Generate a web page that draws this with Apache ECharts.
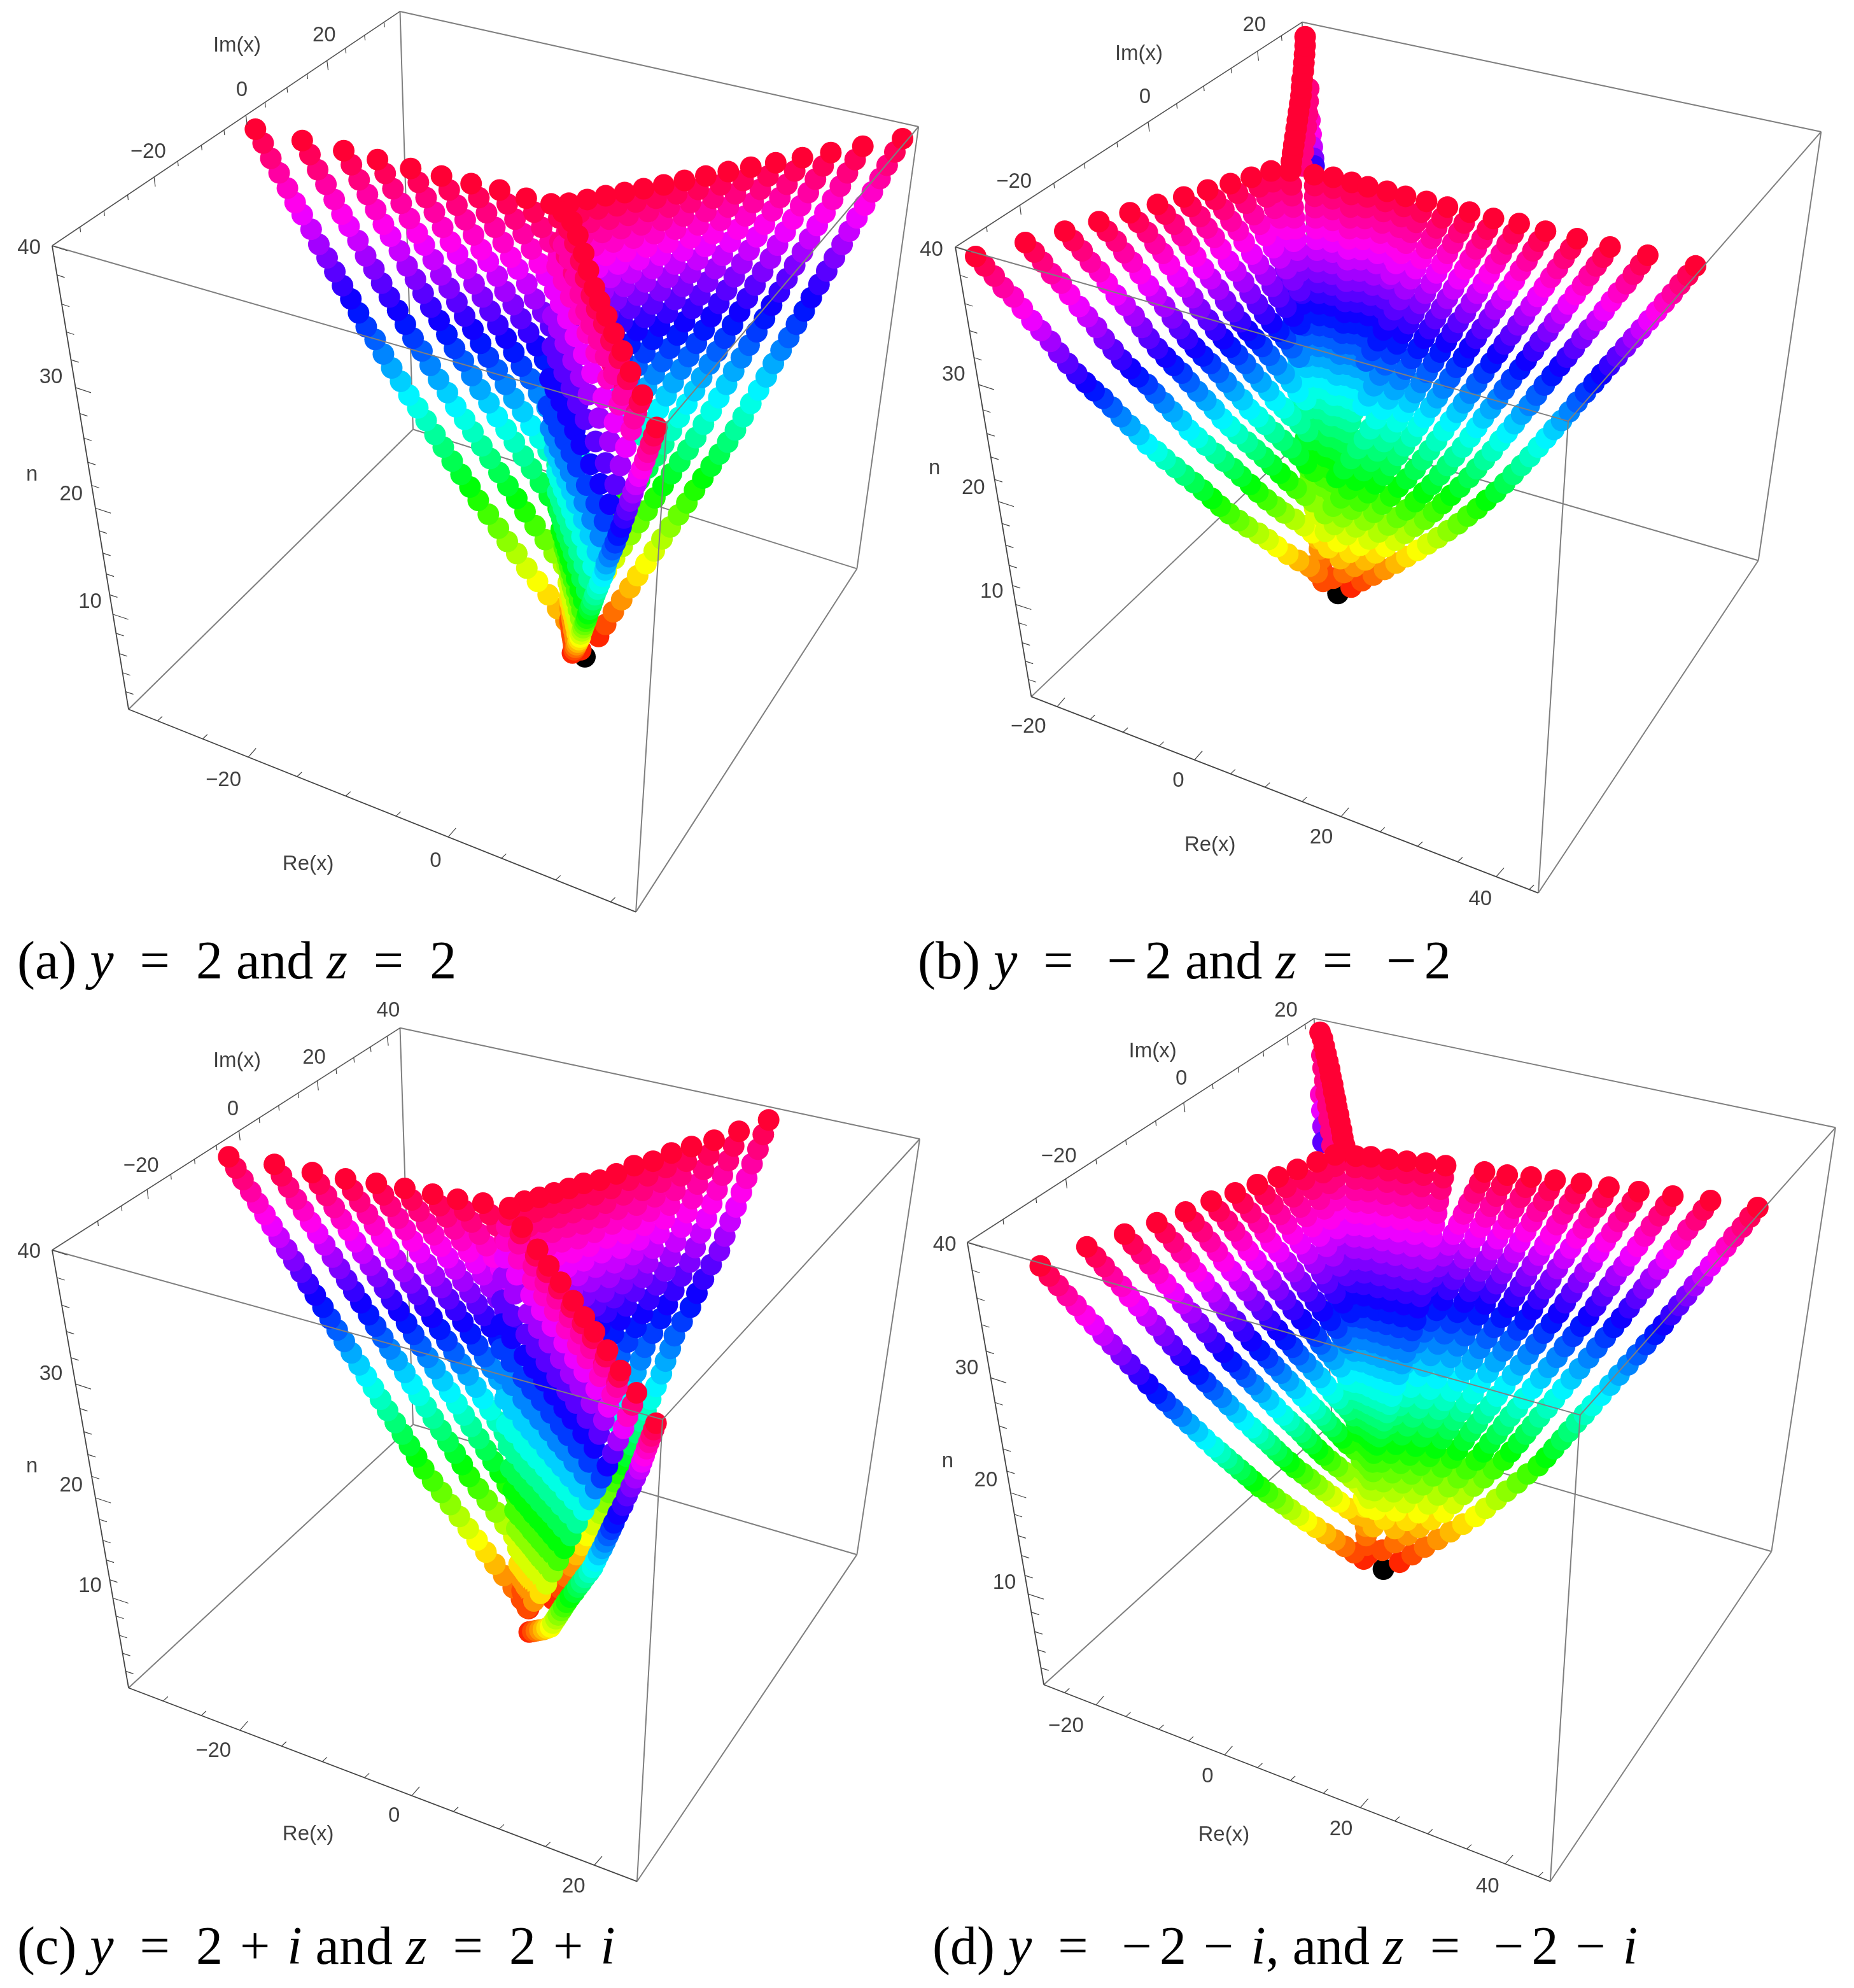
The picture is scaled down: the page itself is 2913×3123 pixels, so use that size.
<!DOCTYPE html>
<html><head><meta charset="utf-8"><style>html,body{margin:0;padding:0;background:#fff}#c{width:2913px;height:3123px}</style>
<script src="https://cdn.jsdelivr.net/npm/echarts@6/dist/echarts.min.js"></script></head><body><div id="c"></div>
<script>
// Values, in each panel's image-plane units. Box corners: TB,TL,TR,TF,BL,BF,BR,BB
const boxA=[[675,18],[88,388],[1550,200],[1125,668],[217,1120],[1073,1440],[1446,898],[697,678]];
const boxB=[[645,35],[65,390],[1513,208],[1090,665],[192,1100],[1040,1410],[1408,885],[660,680]];
const boxC=[[675,55],[88,405],[1552,230],[1118,672],[217,1095],[1075,1400],[1446,885],[697,680]];
const boxD=[[665,40],[85,393],[1537,212],[1110,665],[213,1090],[1060,1400],[1430,880],[695,678]];
const nTicks=[0,.063,.126,.186,.246,.306,.362,.415,.467,.517,.566,.615,.663,.708,.753,.795,.836,.88,.921,.962];
const nMajor=[0,.306,.566,.795];
const imTicksA=[.08,.149,.217,.293,.361,.429,.494,.557,.612,.675,.733,.79,.843,.898,.954], imMajorA=[.293,.557,.79];
const reTicksA=[.057,.146,.236,.332,.428,.527,.63,.735,.842,.95], reMajorA=[.236,.63];
const imTicksB=[.09,.186,.284,.372,.466,.556,.638,.716,.795,.871,.94], imMajorB=[.186,.556,.871];
const reTicksB=[.051,.116,.181,.252,.322,.393,.461,.534,.611,.688,.762,.841,.917,.982], reMajorB=[.051,.322,.611,.917];
const imTicksC=[.131,.199,.273,.341,.409,.472,.537,.595,.651,.707,.762,.816,.867,.915,.963], imMajorC=[.273,.537,.762,.963];
const reTicksC=[.068,.143,.219,.301,.381,.464,.557,.639,.729,.82,.916], reMajorC=[.219,.557,.916];
const imTicksD=[.103,.198,.284,.371,.457,.543,.624,.707,.781,.853,.922,.974], imMajorD=[.284,.624,.922];
const reTicksD=[.041,.103,.162,.227,.286,.357,.422,.487,.552,.625,.693,.758,.835,.911,.976], reMajorD=[.103,.357,.625,.911];
const labelsA=[[49,392,'40'],[86,596,'30'],[120,781,'20'],[152,951,'10'],[250,240,'−20'],[408,143,'0'],[547,56,'20'],[377,1232,'−20'],[735,1360,'0'],[400,72,'Im(x)'],[520,1365,'Re(x)'],[54,750,'n']];
const labelsB=[[25,395,'40'],[62,592,'30'],[95,771,'20'],[126,935,'10'],[163,287,'−20'],[382,154,'0'],[565,40,'20'],[187,1148,'−20'],[438,1233,'0'],[677,1323,'20'],[943,1420,'40'],[372,85,'Im(x)'],[491,1335,'Re(x)'],[30,740,'n']];
const labelsC=[[49,408,'40'],[86,601,'30'],[120,776,'20'],[152,935,'10'],[238,273,'−20'],[393,183,'0'],[530,102,'20'],[655,28,'40'],[360,1195,'−20'],[665,1297,'0'],[968,1408,'20'],[400,107,'Im(x)'],[520,1326,'Re(x)'],[54,746,'n']];
const labelsD=[[47,397,'40'],[84,592,'30'],[116,768,'20'],[147,930,'10'],[238,258,'−20'],[443,135,'0'],[618,28,'20'],[250,1156,'−20'],[487,1235,'0'],[710,1318,'20'],[955,1408,'40'],[395,92,'Im(x)'],[514,1327,'Re(x)'],[52,738,'n']];
const originA=[[987,1037]], originB=[[705,937]], originD=[[781,908]];

// Wing curves: x,y pairs, first pair at n=40, then n falling by 1
const wingsA=[
[431,204,444,226,457,250,471,273,485,297,498,320,510,339,525,362,538,386,552,407,565,429,578,451,592,472,605,494,618,516,633,536,647,559,661,581,676,602,690,624,705,644,719,664,734,686,748,706,763,728,778,749,793,769,807,790,824,812,841,834,856,855,872,874,889,897,907,918,925,939,941,961,955,980,965,1000,974,1014,980,1026],
[510,222,523,244,536,268,550,291,564,315,577,338,589,357,604,380,617,404,631,425,644,447,657,469,671,490,684,512,697,534,712,554,726,577,740,599,755,620,769,642,784,662,798,682,813,704,827,724,842,746,857,767,872,787,886,808,903,830,920,852,935,873,951,892,968,915],
[580,238,593,260,606,284,620,307,634,331,647,354,659,373,674,396,687,420,701,441,714,463,727,485,741,506,754,528,767,550,782,570,796,593,810,615,825,636,839,658,854,678,868,698,883,720,897,740,912,762,927,783,942,803,956,824,973,846,990,868],
[637,252,650,274,663,298,677,321,691,345,704,368,716,387,731,410,744,434,758,455,771,477,784,499,798,520,811,542,824,564,839,584,853,607,867,629,882,650,896,672,911,692,925,712,940,734,954,754,969,776,984,797],
[693,266,706,288,719,312,733,335,747,359,760,382,772,401,787,424,800,448,814,469,827,491,840,513,854,534,867,556,880,578,895,598,909,621,923,643,938,664,952,686,967,706,981,726],
[745,278,758,300,771,324,785,347,799,371,812,394,824,413,839,436,852,460,866,481,879,503,892,525,906,546,919,568,932,590,947,610,961,633,975,655],
[795,290,808,312,821,336,835,359,849,383,862,406,874,425,889,448,902,472,916,493,929,515,942,537,956,558],
[843,300,856,322,869,346,883,369,897,393,910,416,922,435,937,458,950,482,964,503],
[888,313,901,335,914,359,928,382,942,406,955,429],
[930,322,943,344,956,368],
[1523,219,1510,240,1497,261,1485,282,1472,303,1459,324,1446,344,1433,365,1421,386,1408,407,1395,428,1382,449,1369,470,1357,491,1344,512,1331,533,1318,553,1305,574,1293,595,1280,616,1267,637,1254,658,1241,679,1228,698,1214,717,1200,736,1186,755,1172,774,1159,794,1145,813,1131,832,1117,851,1104,870,1090,890,1076,909,1063,928,1049,947,1035,966,1022,986,1010,1005],
[1456,231,1443,252,1430,273,1418,294,1405,315,1392,336,1379,356,1366,377,1354,398,1341,419,1328,440,1315,461,1302,482,1290,503,1277,524,1264,545,1251,565,1238,586,1226,607,1213,628,1200,649,1187,670,1174,691,1161,710,1147,729,1133,748,1119,767,1105,786,1092,806,1078,825,1064,844,1050,863,1037,882,1023,902,1009,921,996,940,982,959,968,978],
[1402,241,1389,262,1376,283,1364,304,1351,325,1338,346,1325,366,1312,387,1300,408,1287,429,1274,450,1261,471,1248,492,1236,513,1223,534,1210,555,1197,575,1184,596,1172,617,1159,638,1146,659,1133,680,1120,701,1107,720,1093,739,1079,758,1065,777,1051,796,1038,816,1024,835],
[1354,249,1341,270,1328,291,1316,312,1303,333,1290,354,1277,374,1264,395,1252,416,1239,437,1226,458,1213,479,1200,500,1188,521,1175,542,1162,563,1149,583,1136,604,1124,625,1111,646,1098,667,1085,688],
[1309,257,1296,278,1283,299,1271,320,1258,341,1245,362,1232,382,1219,403,1207,424,1194,445,1181,466,1168,487,1155,508,1143,529,1130,550,1117,571,1104,591,1091,612,1079,633,1066,654],
[1267,264,1254,285,1241,306,1229,327,1216,348,1203,369,1190,389,1177,410,1165,431,1152,452,1139,473,1126,494,1113,515,1101,536,1088,557,1075,578,1062,598,1049,619],
[1229,271,1216,292,1203,313,1191,334,1178,355,1165,376,1152,396,1139,417,1127,438,1114,459,1101,480,1088,501,1075,522,1063,543,1050,564,1037,585],
[1191,278,1178,299,1165,320,1153,341,1140,362,1127,383,1114,403,1101,424,1089,445,1076,466,1063,487,1050,508,1037,529,1025,550],
[1155,285,1142,306,1129,327,1117,348,1104,369,1091,390,1078,410,1065,431,1053,452,1040,473,1027,494,1014,515],
[1120,292,1107,313,1094,334,1082,355,1069,376,1056,397,1043,417,1030,438,1018,459,1005,480],
[1086,298,1073,319,1060,340,1048,361,1035,382,1022,403,1009,423,996,444],
[1054,304,1041,325,1028,346,1016,367,1003,388,990,409,977,429],
[1022,309,1009,330,996,351,984,372,971,393],
[991,315,978,336,965,357,953,378],
[960,321,947,342]];
// Ridge curves, back to front: first pair at n=40, then n falling by 2
const bandA=[
[950,335,945,382,940,421,936,458,933,499,932,548,928,598,925,641,929,676,936,711,940,745,941,777,944,808,947,836,952,864,957,892,959,920,961,942,962,961,962,978],
[962,360,956,404,951,443,946,479,943,519,941,567,937,615,934,657,936,691,942,725,945,758,946,789,948,819,950,845,955,872,959,899,961,926,962,947,963,965,962,982],
[975,395,968,431,963,469,958,503,954,542,952,588,947,634,943,675,944,708,949,740,951,773,951,802,952,831,954,857,958,882,961,907,963,933,963,953,964,970,963,986],
[990,430,983,461,977,497,971,531,967,569,964,613,958,656,954,695,954,727,957,758,958,789,957,817,957,845,958,869,961,893,964,917,964,940,965,959,965,975,964,990],
[1005,470,998,500,991,526,985,559,980,595,975,637,970,679,964,715,963,746,965,776,965,806,963,833,963,859,962,882,964,904,966,926,966,948,966,966,966,981,964,995],
[1020,510,1013,535,1006,557,999,589,993,623,988,662,981,702,975,737,973,767,973,795,972,823,969,849,968,874,967,895,968,916,969,936,968,956,968,972,967,986,965,1000],
[1042,552,1033,575,1026,598,1018,628,1011,660,1005,697,997,733,990,766,986,793,985,820,982,847,977,871,975,893,973,913,973,932,973,949,971,967,970,981,968,994,966,1006],
[1063,590,1054,612,1045,639,1037,667,1029,697,1022,731,1013,764,1006,795,999,820,996,845,991,870,986,892,982,913,979,931,978,947,976,962,974,978,972,990,970,1002,967,1012],
[1083,628,1074,651,1065,679,1056,706,1047,735,1038,765,1029,796,1020,823,1013,847,1008,871,1001,894,994,914,990,932,985,948,982,963,980,976,977,988,974,1000,971,1009,968,1019]];
// Dots along the top ridge, back to front: x, y, n
const capA=[[951,387,37],[960,362,39],[965,350,40],[961,409,37],[970,384,39],[975,372,40],[971,437,37],[980,412,39],[985,400,40],[979,464,37],[988,439,39],[993,427,40],[989,491,37],[998,466,39],[1003,454,40],[998,513,37],[1007,488,39],[1012,476,40],[1010,536,37],[1019,511,39],[1024,499,40],[1022,563,37],[1031,538,39],[1036,526,40],[1036,591,37],[1045,566,39],[1050,554,40],[1050,624,37],[1059,599,39],[1064,587,40],[1070,661,37],[1079,636,39],[1084,624,40]];
// Front tube: first pair at n=40, n falling by 1
const tubeA=[1108,675,1103,688,1098,701,1093,714,1088,727,1083,740,1078,752,1073,765,1068,778,1063,791,1058,805,1053,818,1048,832,1043,845,1038,857,1033,868,1028,879,1023,890,1021,900,1017,910,1012,921,1008,930,1004,939,1001,947,998,955,995,962,992,969,990,976,988,981,986,986,984,991,982,996,980,1001,979,1006,977,1010,975,1014,973,1018,971,1022,969,1026,966,1031];

const wingsB=[
[99,405,114,420,130,436,145,454,162,469,177,487,193,506,208,522,224,539,238,557,253,574,268,590,283,604,297,617,312,629,327,643,342,658,357,672,372,686,386,701,402,713,416,725,433,738,448,750,464,762,479,774,494,787,508,799,523,811,539,822,554,832,572,842,588,852,603,863,621,875,639,885,657,894,670,904,680,918],
[182,383,197,398,211,414,226,432,242,447,256,465,272,484,286,500,301,517,314,535,329,552,343,568,358,582,371,595,386,607,399,621,414,636,428,650,443,664,456,679,470,691,484,703,500,716,514,728,530,740,543,752,558,765,571,777,586,789,601,800,615,810,632,820,648,830,662,841,680,853,697,863],
[248,365,262,380,277,396,291,414,306,429,319,447,334,466,349,482,364,499,377,517,389,534,403,550,417,564,430,577,444,589,456,603,470,618,484,632,498,646,511,661,524,673,537,685,553,698,567,710,581,722,594,734,608,747,621,759,635,771,650,782,663,792,680,802],
[305,350,319,365,334,381,347,399,361,414,374,432,388,451,401,467,415,484,428,502,440,519,453,535,466,549,479,562,492,574,505,588,518,603,531,617,545,631,557,646,571,658,583,670,598,683,612,695,626,707,639,719,652,732,665,744],
[357,336,371,351,386,367,399,385,412,400,423,418,437,437,449,453,462,470,474,488,488,505,500,521,513,535,525,548,537,560,550,574,563,589,576,603,589,617,600,632,614,644,626,656,641,669,654,681],
[403,323,416,338,431,354,444,372,456,387,467,405,480,424,492,440,505,457,517,475,530,492,542,508,554,522,566,535,578,547,590,561,602,576,615,590,627,604,638,619,651,631],
[447,311,459,326,474,342,486,360,498,375,509,393,522,412,534,428,547,445,558,463,570,480,582,496,594,510,606,523,617,535,628,549,640,564],
[487,300,500,315,514,331,526,349,538,364,548,382,561,401,572,417,584,434,595,452,606,469,618,485,630,499,641,512],
[525,290,537,305,551,321,564,339,574,354,584,372,597,391,608,407,619,424,630,442,641,459],
[560,280,573,295,586,311,599,329,608,344,619,362,631,381],
[1303,420,1290,435,1277,449,1264,464,1251,478,1238,492,1225,506,1212,520,1199,534,1186,548,1172,563,1159,577,1146,591,1133,605,1119,620,1105,635,1092,650,1079,664,1066,678,1053,692,1040,706,1026,721,1012,735,998,749,984,763,969,777,953,790,938,803,922,815,906,827,889,838,872,849,855,859,838,869,820,879,802,889,783,899,764,908,745,917,727,927],
[1223,403,1211,418,1199,433,1187,448,1174,462,1162,476,1150,491,1138,506,1125,520,1113,534,1100,550,1088,564,1076,578,1063,593,1050,608,1037,624,1025,640,1012,654,1000,669,988,683,976,696,963,712,950,726,937,740,924,754,909,769,894,782,880,795,865,808,850,820,833,831,817,842,801,853,785,863,768,873,751,884,733,894,715,904,697,913],
[1160,390,1148,406,1137,420,1125,435,1114,450,1102,465,1090,480,1079,495,1067,509,1056,524,1043,539,1032,554,1020,569,1009,583,995,599,983,615,972,630,960,645,948,660,937,675,926,690,913,706,900,721,888,735,875,750,862,765,848,778,834,792,819,805,804,817,789,829,773,840,757,851,742,861,725,872,709,882],
[1105,377,1094,393,1083,408,1072,424,1061,438,1050,453,1039,468,1028,483,1017,498,1006,513,994,529,983,543,972,558,961,573,949,589,937,605,926,621,915,636,904,651,893,665,882,680,870,696,858,711,846,726,834,741,820,756,806,769,793,783,779,796,765,809,750,821,735,832,720,844,705,855,689,865],
[1052,365,1041,381,1031,396,1021,412,1010,427,1000,443,989,458,979,473,968,488,958,503,946,519,936,534,925,549,915,564,903,580,892,597,881,613,871,628,860,643,849,659,839,673,828,689,816,704,805,719,793,735,781,750,767,764,755,778,741,791,728,804,713,816,699,828,684,839],
[1008,353,998,369,988,385,978,401,968,416,958,432,948,447,938,463,928,478,918,494,906,509,896,525,886,540,876,556,865,572,854,588,844,604,834,620,824,635,814,650,804,666,793,682,782,697,771,712,760,728,748,743,735,758,723,772,710,786,697,799,683,811],
[965,345,955,362,946,377,936,393,926,409,917,425,907,440,898,456,888,471,878,487,868,503,858,519,849,534,839,550,828,566,818,583,808,599,799,615,789,630,779,646,769,661,759,677,749,693,738,708,727,724,715,740,703,754],
[925,335,916,352,907,367,897,384,888,400,879,416,870,431,861,447,851,463,842,479,832,495,823,511,813,526,804,543,794,559,784,576,775,592,765,609,756,625,747,640],
[888,327,879,344,870,360,861,376,853,392,844,408,835,424,826,440,817,456,808,473,799,489,790,505,781,521,772,538,762,553,752,570],
[853,318,844,335,836,351,827,367,819,384,811,400,802,416,794,433],
[593,270,596,287,598,304,601,322,604,339,607,356,609,373,612,390,615,408,617,425,620,442,623,459,625,476,628,494,630,510,632,527,634,543,636,559,638,576,640,592,641,609,643,625,645,641,647,658,649,674,651,691,653,707,655,724,657,740,659,755,661,771,663,787,666,803,668,819,670,835,672,851,674,867,676,883,678,899,680,915],
[625,270,627,292,628,309,630,327,632,344,634,361,635,378,637,395,640,412,641,429,643,446,645,463,646,480,648,498,649,514,650,531,651,547,652,563,653,580,654,596,654,613,655,628,656,645,657,661,658,677,659,694,660,710,661,727,663,743],
[665,276,666,293,666,310,667,328,668,344,669,361,669,378,670,395,671,413,671,430,672,446,673,463,673,480,674,498,674,514,674,531,673,547,673,563,673,580,673,596,671,613,671,629,671,645,671,662,670,678,670,695,670,711,669,727,670,743,670,758,671,774,672,790,673,806,674,822],
[697,280,697,297,696,314,696,331,696,348,696,365,695,382,696,398,695,416,695,433,695,450,695,466,694,483,694,501,693,517,692,534,691,549,689,566,688,582,687,599,685,615,683,631,682,647,681,664,680,680,678,697,677,713,676,729,675,745],
[728,288,727,307,726,327,725,344,724,361,723,377,722,393,721,410,720,427,719,444,718,460,717,476,716,493,714,510,712,526,710,543,708,559,706,575,703,592,701,608,698,624,696,640,694,656,691,673,689,689,686,705,684,721,682,737,681,753,680,768,679,784,679,799,678,815,677,830],
[755,295,754,311,751,328,750,345,748,361,747,378,744,394,743,410,741,428,739,444,737,461,736,477,734,493,732,511,729,527,726,543,723,559,720,575,716,592,713,608,709,624,706,641,703,656,700,674,697,690,693,706,690,722,687,737,686,753],
[787,302,784,318,781,334,779,352,776,368,774,384,771,400,769,416,765,434,763,450,760,466,758,482,755,498,752,516,748,532,744,548,740,564,736,580,732,597,728,613,723,629,719,645,715,661,711,678,707,694,702,710,698,726,694,741,691,757],
[818,310,815,326,811,342,808,359,804,375,801,391,797,407,794,423,790,440,787,456,783,472,780,488,776,504,772,521,767,537,762,553,757,569,752,585,747,602,742,618,736,634,731,650,726,666,721,683,716,699,710,715,705,731,700,745,697,761,694,777,691,792,689,807,686,823,683,838]];
// Back column: x, y, n
const towerB=[[658,190,36],[660,212,35],[662,232,33],[664,250,31],[665,262,29],[645,262,38],[647,240,38],[650,220,38],[652,200,38],[654,180,38],[655,160,38],[656,140,38],[626,268,40],[627,255,40],[629,242,40],[631,229,40],[633,216,40],[635,203,40],[637,190,40],[639,177,40],[641,164,40],[643,151,40],[644,138,40],[645,125,40],[647,112,40],[648,99,40],[649,86,40],[650,72,40],[650,58,40]];

const wingsC=[
[386,258,398,276,410,294,423,313,435,331,447,349,459,367,471,385,484,404,496,422,508,440,520,458,532,476,545,495,557,513,569,531,581,549,593,567,606,586,618,604,630,622,642,640,654,658,667,677,679,695,691,713,703,731,715,750,730,769,745,787,760,806,775,825,790,844,805,862,820,881,835,900,850,918,866,937,880,955,892,970],
[463,270,475,288,487,306,500,325,512,343,524,361,536,379,548,397,561,416,573,434,585,452,597,470,609,488,622,507,634,525,646,543,658,561,670,579,683,598,695,616,707,634,719,652,731,670,744,689,756,707,768,725,780,743,792,762,807,781,822,799,837,818,852,837,867,856,882,874],
[527,283,539,301,551,319,564,338,576,356,588,374,600,392,612,410,625,429,637,447,649,465,661,483,673,501,686,520,698,538,710,556,722,574,734,592,747,611,759,629,771,647,783,665,795,683,808,702,820,720,832,738,844,756,856,775,871,794,886,812],
[583,293,595,311,607,329,620,348,632,366,644,384,656,402,668,420,681,439,693,457,705,475,717,493,729,511,742,530,754,548,766,566,778,584,790,602,803,621,815,639,827,657,839,675,851,693,864,712,876,730,888,748],
[635,300,647,318,659,336,672,355,684,373,696,391,708,409,720,427,733,446,745,464,757,482,769,500,781,518,794,537,806,555,818,573,830,591,842,609,855,628,867,646],
[683,308,695,326,707,344,720,363,732,381,744,399,756,417,768,435,781,454,793,472,805,490,817,508,829,526,842,545,854,563,866,581],
[730,317,742,335,754,353,767,372,779,390,791,408,803,426,815,444,828,463,840,481,852,499,864,517],
[772,325,784,343,796,361,809,380,821,398,833,416,845,434,857,452,870,471],
[815,331,827,349,839,367,852,386,864,404],
[860,338,872,356],
[1297,200,1288,223,1279,246,1269,269,1260,292,1251,314,1242,337,1232,360,1223,383,1214,406,1200,428,1187,451,1176,473,1165,495,1151,518,1138,540,1131,560,1123,580,1116,600,1107,620,1098,640,1090,658,1082,675,1074,693,1066,712,1058,730,1051,743,1043,757,1036,770,1028,787,1021,803,1013,820,1002,838,991,855,982,870,973,885,965,903,956,920,945,938,933,955],
[1247,218,1238,241,1229,264,1219,287,1210,310,1201,332,1192,355,1182,378,1173,401,1164,424,1150,446,1137,469,1126,491,1115,513,1101,536,1088,558,1081,578,1073,598,1066,618,1057,638,1048,658,1040,676],
[1205,232,1196,255,1187,278,1177,301,1168,324,1159,346,1150,369,1140,392,1131,415,1122,438,1108,460,1095,483,1084,505,1073,527,1059,550,1046,572,1039,592,1031,612,1024,632,1015,652],
[1167,242,1158,265,1149,288,1139,311,1130,334,1121,356,1112,379,1102,402,1093,425,1084,448,1070,470,1057,493,1046,515,1035,537,1021,560,1008,582,1001,602,993,622],
[1133,252,1124,275,1115,298,1105,321,1096,344,1087,366,1078,389,1068,412,1059,435,1050,458,1036,480,1023,503,1012,525,1001,547,987,570,974,592],
[1102,265,1093,288,1084,311,1074,334,1065,357,1056,379,1047,402,1037,425,1028,448,1019,471,1005,493,992,516,981,538,970,560],
[1070,272,1061,295,1052,318,1042,341,1033,364,1024,386,1015,409,1005,432,996,455,987,478,973,500,960,523,949,545],
[1040,285,1031,308,1022,331,1012,354,1003,377,994,399,985,422,975,445,966,468,957,491,943,513],
[1012,295,1003,318,994,341,984,364,975,387,966,409,957,432,947,455,938,478,929,501],
[985,300,976,323,967,346,957,369,948,392,939,414,930,437,920,460],
[960,308,951,331,942,354,932,377,923,400,914,422,905,445],
[935,315,926,338,917,361,907,384,898,407,889,429],
[910,322,901,345,892,368,882,391,873,414],
[885,328,876,351,867,374,857,397]];
const bandC=[
[860,340,857,366,854,391,852,417,849,448,847,485,846,522,846,561,849,600,852,640,855,680,858,714,862,749,866,783,869,815,872,844,874,875,876,900,880,922,881,942],
[881,369,878,394,875,419,872,444,868,474,866,509,864,544,863,581,865,618,866,656,868,693,870,726,872,760,875,792,876,823,878,851,879,881,880,905,882,926,882,945],
[907,404,903,428,899,452,896,476,892,505,888,538,885,571,883,606,883,640,883,675,884,710,884,741,884,772,885,803,885,832,885,859,884,887,884,910,885,930,883,948],
[926,430,922,454,918,477,914,500,909,528,905,559,901,591,898,624,897,656,896,689,895,722,894,752,893,782,893,811,892,839,891,865,889,892,887,914,887,933,884,950],
[946,456,941,479,936,501,932,525,927,551,922,581,918,611,914,642,911,672,909,703,907,734,904,762,902,791,900,820,898,847,896,871,893,897,890,918,888,936,885,953],
[967,485,962,507,956,529,952,551,946,576,940,605,935,633,930,662,927,690,923,719,920,747,916,774,912,802,909,829,905,854,902,878,898,903,894,923,890,940,885,955],
[986,511,981,533,975,554,970,576,963,600,957,627,952,654,946,681,941,707,936,733,932,760,926,785,922,812,917,837,912,862,907,884,902,908,897,927,892,943,886,958],
[1003,534,998,556,991,576,986,597,979,620,972,646,966,671,959,697,954,721,948,746,942,770,936,795,930,820,924,845,918,868,912,890,906,913,900,931,894,946,887,960],
[1025,563,1019,584,1012,604,1006,624,998,646,991,670,984,694,976,717,969,739,962,762,955,784,947,807,940,831,932,854,925,876,918,896,911,918,904,935,896,950,888,963],
[1047,595,1041,614,1033,633,1027,652,1019,673,1011,695,1003,717,994,739,986,758,977,778,969,798,960,820,950,842,941,864,933,884,925,904,916,924,908,940,898,954,889,966],
[1074,630,1067,649,1059,667,1052,686,1043,705,1034,725,1025,745,1015,764,1005,781,995,798,985,815,974,835,963,855,952,875,942,894,932,912,922,931,912,946,901,958,890,969]];
const capC=[[855,368,37],[858,350,39],[860,340,40],[875,395,37],[878,379,39],[881,369,40],[900,430,37],[904,414,39],[907,404,40],[920,456,37],[923,440,39],[926,430,40],[940,482,37],[943,466,39],[946,456,40],[961,511,37],[964,495,39],[967,485,40],[980,537,37],[983,521,39],[986,511,40],[997,560,37],[1000,544,39],[1003,534,40],[1019,589,37],[1022,573,39],[1025,563,40],[1041,621,37],[1044,605,39],[1047,595,40]];
const tubeC=[1107,678,1103,688,1099,698,1095,708,1091,718,1087,729,1083,739,1079,750,1072,764,1065,778,1058,792,1051,807,1043,821,1036,835,1031,845,1026,855,1021,865,1016,875,1010,885,1005,895,1000,905,994,913,987,921,981,929,975,936,969,944,962,952,956,960,951,967,947,973,942,980,938,986,933,993,929,999,923,1001,917,1003,911,1004,905,1005,899,1006,893,1007];

const wingsD=[
[207,430,222,446,237,461,252,477,267,492,282,508,297,523,312,539,327,554,342,570,357,585,372,601,387,616,402,631,416,643,429,655,443,667,456,679,470,691,483,703,497,715,508,724,519,733,530,742,541,751,552,760,563,769,574,778,587,787,600,796,613,805,626,814,639,823,652,832,668,842,684,852,700,862,716,872,732,882,748,892],
[285,400,300,416,314,431,328,447,343,462,356,478,371,493,385,509,400,524,414,540,428,555,442,571,457,586,471,601,484,613,496,625,510,637,522,649,535,661,547,673,561,685,571,694,582,703,592,712,602,721,612,730,623,739,633,748,646,757,658,766,670,775,682,784,695,793,707,802,722,812,737,822,753,832],
[348,380,362,396,376,411,390,427,404,442,417,458,431,473,445,489,459,504,472,520,485,535,499,551,513,566,527,581,540,593,551,605,564,617,576,629,589,641,601,653,613,665,623,674,633,683,643,692,652,701,661,710,671,719,681,728,692,737,704,746,716,755,728,764,739,773,751,782],
[402,362,416,378,430,393,443,409,456,424,468,440,481,455,494,471,506,486,519,502,534,517,547,533,560,548,574,563,587,575,598,587,610,599,622,611,634,623,645,635,657,647,667,656,676,665,685,674,694,683,703,692,712,701,721,710,733,719,744,728],
[450,345,464,361,478,376,491,392,503,407,514,423,527,438,540,454,552,469,565,485,578,500,591,516,604,531,617,546,629,558,639,570,651,582,663,594,675,606,685,618,696,630,705,639,714,648,723,657,731,666,740,675],
[493,328,506,344,520,359,532,375,544,390,555,406,568,421,580,437,593,452,605,468,617,483,630,499,644,514,657,529,669,541,676,553,687,565,698,577,709,589,720,601,732,613,740,622],
[533,315,546,331,559,346,572,362,583,377,593,393,606,408,619,424,631,439,643,455,654,470,667,486,679,501,692,516,703,528,711,540,722,552,732,564],
[570,302,583,318,596,333,608,349,619,364,629,380,642,395,654,411,666,426,678,442,687,457,700,473,713,488,726,503],
[605,290,618,306,630,321,642,337,652,352,662,368,674,383,686,399,697,414,708,430,720,445],
[637,278,649,294,662,309,674,325,682,340,692,356,704,371],
[670,266,680,283,690,300],
[1407,338,1394,353,1381,369,1367,384,1354,400,1341,415,1328,430,1315,446,1301,461,1288,477,1275,492,1262,507,1249,523,1235,538,1220,554,1205,570,1190,586,1175,602,1160,618,1145,634,1130,650,1117,664,1104,677,1091,691,1079,704,1066,718,1053,732,1040,745,1022,758,1005,772,987,785,970,798,952,812,935,825,914,837,893,849,872,861,850,873,829,885,808,897],
[1328,327,1316,342,1304,358,1290,373,1278,389,1266,404,1254,419,1241,435,1228,450,1216,466,1204,481,1192,496,1179,512,1166,527,1152,543,1138,559,1124,575,1109,592,1095,608,1081,624,1067,640,1055,654,1042,668,1030,682,1019,695,1007,709,994,723,982,736,965,750,949,764,932,777,915,790,898,804,882,818,861,830,841,842,821,854,800,866,779,878],
[1265,320,1253,335,1242,351,1229,367,1218,383,1206,399,1194,414,1183,430,1170,445,1159,462,1147,477,1136,493,1124,509,1111,525,1098,541,1084,557,1071,574,1057,590,1044,607,1030,623,1016,639,1005,654,993,667,982,681,971,695,959,709,948,723,936,736,920,750,906,764,890,778,872,791,856,805,840,819,820,831,800,844],
[1208,313,1197,329,1186,345,1174,360,1163,377,1152,392,1141,408,1130,424,1118,440,1107,456,1096,472,1085,488,1074,504,1062,520,1049,536,1036,553,1023,569,1010,586,997,602,984,619,971,635,960,650,949,663,938,678,927,691,916,705,905,720,895,733,879,747,864,761,847,775,832,788,817,803,802,816,783,829,764,841],
[1158,306,1148,322,1137,338,1125,354,1115,371,1104,386,1094,402,1083,418,1072,434,1061,451,1051,466,1040,482,1030,499,1018,515,1006,531,993,548,981,564,968,581,956,598,943,614,931,631,920,645,910,659,899,673,890,687,879,702,868,717,858,730,843,744,828,758,813,772,798,786,783,801,768,814],
[1112,300,1102,316,1092,332,1081,348,1071,365,1061,381,1051,397,1041,413,1030,429,1020,446,1010,462,1000,478,990,495,978,511,966,527,954,544,942,560,930,577,918,594,906,611,894,627,883,642,874,656,864,670,855,684,845,699,835,714,825,728,810,741,796,756,781,770,766,784],
[1068,295,1058,311,1049,328,1038,344,1029,360,1019,376,1009,392,1000,409,989,425,979,442,970,458,960,473,951,490,940,507,928,523,917,540,905,556,894,574,882,590,870,607,859,624,849,639,840,654,830,668,821,682,812,696,802,711,793,725,778,739,764,754],
[1028,290,1019,306,1010,322,999,339,990,356,981,372,972,387,963,404,953,421,943,438,934,454,925,470,916,487,905,503,894,520,883,537,872,553,860,571,849,588,838,604,827,621,818,636,808,650,799,665,791,679,782,694],
[988,287,979,303,970,320,960,336,952,353,943,369,934,385,925,402,916,418,907,435,898,451,889,467,880,484,870,500,860,517,849,534,838,551,827,568,816,585,806,602,795,619],
[950,282,942,299,933,315,924,331,915,348,907,364,898,380,890,397,881,414,873,431,864,447,855,463,847,480,837,497],
[700,255,700,273,701,291,701,309,702,327,702,345,702,364,703,382,703,400,704,418,704,436,704,454,705,472,705,490,707,507,710,524,712,541,715,559,717,576,720,593,722,610,725,624,728,637,731,651,733,664,736,678,739,691,742,705,743,720,744,735,745,750,746,765,747,780,748,795,749,810,750,825,751,840,752,855,753,870,755,885],
[735,257,734,275,734,293,734,311,734,329,733,347,732,366,732,384,732,402,732,420,731,438,730,456,730,474,730,492,730,510,732,526,732,543,733,561,734,578,735,595,736,612,738,626,739,639,741,653,742,666,743,680,745,693,746,707,747,722],
[760,258,758,277,757,295,756,313,756,331,754,349,753,368,753,386,751,404,751,422,749,441,748,459,748,477,747,495,746,512,746,529,746,546,746,564,745,581,746,598,745,615,746,629,747,642,747,656,747,668,748,682,749,695,749,709,749,724,750,739,750,753,750,768,750,783,750,798],
[790,262,789,280,787,298,785,317,784,335,782,353,780,372,779,390,777,409,776,427,774,445,772,464,771,482,769,500,767,517,766,534,764,551,763,569,761,586,760,603,758,620,757,634,757,647,756,660,755,673,755,686,754,699,753,713,753,728],
[820,265,818,284,815,302,813,320,811,339,809,357,806,376,804,395,801,413,799,431,796,450,794,468,792,486,790,505,786,522,784,539,781,556,778,574,775,591,773,608,769,625,768,638,766,651,764,665,762,677,761,691,759,704,757,717,756,731,756,746,755,760,754,775,754,790,753,804],
[852,268,848,287,845,305,842,324,840,343,836,361,833,380,830,399,827,418,824,436,820,454,818,473,815,491,812,510,807,527,803,544,799,561,795,579,790,596,786,613,782,630,779,643,776,656,773,669,770,682,767,695,764,708,761,721,759,735],
[885,272,881,291,877,309,873,328,870,347,866,365,862,384,858,403,854,422,850,440,846,459,843,478,839,496,835,515,829,532,824,549,818,566,812,584,806,601,801,618,795,635,791,648,787,661,782,674,778,686,774,699,770,712,765,725,763,739,762,753,760,767,758,782,757,796,755,810]];
const towerD=[[676,160,36],[678,185,34],[680,210,32],[680,235,30],[695,240,38],[693,218,38],[690,198,38],[688,178,38],[685,158,38],[683,138,38],[680,118,38],[678,98,38],[718,252,40],[716,240,40],[713,228,40],[711,216,40],[708,204,40],[706,192,40],[703,180,40],[701,168,40],[698,156,40],[696,144,40],[693,132,40],[691,120,40],[688,108,40],[685,96,40],[682,84,40],[679,72,40],[675,62,40]];

const captions=[
 {left:22,top:1468,t:'{r|(a) }{i|y}{r| }{e|=}{r| 2 and }{i|z}{r| }{e|=}{r| 2}'},
 {left:1437,top:1468,t:'{r|(b) }{i|y}{r| }{e|=}{r| }{m|−}{r|2 and }{i|z}{r| }{e|=}{r| }{m|−}{r|2}'},
 {left:22,top:3016,t:'{r|(c) }{i|y}{r| }{e|=}{r| 2 }{b|+}{r| }{i|i}{r| and }{i|z}{r| }{e|=}{r| 2 }{b|+}{r| }{i|i}'},
 {left:1460,top:3016,t:'{r|(d) }{i|y}{r| }{e|=}{r| }{m|−}{r|2 }{b|−}{r| }{i|i}{r|, and }{i|z}{r| }{e|=}{r| }{m|−}{r|2 }{b|−}{r| }{i|i}'}];

const grids=[{left:0,top:0,width:1460,height:1560},{left:1440,top:0,width:1473,height:1560},{left:0,top:1560,width:1460,height:1563},{left:1440,top:1560,width:1473,height:1563}];
const panels=[
 {box:boxA,im:imTicksA,imM:imMajorA,re:reTicksA,reM:reMajorA,labels:labelsA,wings:wingsA,band:bandA,cap:capA,tube:tubeA,tower:[],origin:originA},
 {box:boxB,im:imTicksB,imM:imMajorB,re:reTicksB,reM:reMajorB,labels:labelsB,wings:wingsB,band:[],cap:[],tube:[],tower:towerB,origin:originB},
 {box:boxC,im:imTicksC,imM:imMajorC,re:reTicksC,reM:reMajorC,labels:labelsC,wings:wingsC,band:bandC,cap:capC,tube:tubeC,tower:[],origin:[]},
 {box:boxD,im:imTicksD,imM:imMajorD,re:reTicksD,reM:reMajorD,labels:labelsD,wings:wingsD,band:[],cap:[],tube:[],tower:towerD,origin:originD}];

function triples(flat,step){const o=[];for(let i=0;i*2<flat.length;i++)o.push([flat[2*i],flat[2*i+1],40-i*step]);return o;}
const lerp=(a,b,t)=>[a[0]+(b[0]-a[0])*t,a[1]+(b[1]-a[1])*t];
const series=[],mainIdx=[];
panels.forEach((p,g)=>{
  const [TB,TL,TR,TF,BL,BF,BR,BB]=p.box;
  const base={xAxisIndex:g,yAxisIndex:g};
  const seg=(a,b)=>({coords:[a,b]});
  const lines=(data,color,width,z)=>series.push({...base,type:'lines',coordinateSystem:'cartesian2d',polyline:false,silent:true,animation:false,clip:false,z,data,lineStyle:{color,width,opacity:1,curveness:0}});
  lines([seg(TB,BB),seg(BB,BL),seg(BB,BR),seg(TB,TR)],'#7f7f7f',2,1);
  lines([seg(TL,TB)],'#555',1.6,1);
  series.push({...base,type:'scatter',animation:false,silent:true,clip:false,z:2,symbolSize:34,itemStyle:{color:'#000',opacity:1},data:p.origin});
  let wing=[];p.wings.forEach(c=>wing=wing.concat(triples(c,1)));
  wing=wing.map((d,i)=>[d,i]).sort((a,b)=>a[0][2]-b[0][2]||a[1]-b[1]).map(d=>d[0]);
  let data=p.tower.concat(wing);
  p.band.forEach(c=>{data=data.concat(triples(c,2).reverse());});
  data=data.concat(p.cap);
  if(p.tube.length)data=data.concat(triples(p.tube,1).reverse());
  mainIdx.push(series.length);
  series.push({...base,type:'scatter',animation:false,silent:true,clip:false,z:3,symbolSize:34,progressive:0,large:false,itemStyle:{opacity:1},data,encode:{x:0,y:1}});
  lines([seg(TL,TF),seg(TF,TR),seg(TF,BF),seg(TR,BR),seg(BF,BR)],'#7f7f7f',2,4);
  lines([seg(TL,BL),seg(BL,BF)],'#444',1.8,4);
  const ticks=[];
  nTicks.forEach(t=>{const a=lerp(TL,BL,t),m=nMajor.includes(t);ticks.push(seg(a,[a[0]+(m?26:13),a[1]+(m?8:4)]));});
  p.im.forEach(t=>{const a=lerp(TL,TB,t),m=p.imM.includes(t);ticks.push(seg(a,[a[0]+(m?2:1),a[1]+(m?15:8)]));});
  p.re.forEach(t=>{const a=lerp(BL,BF,t),m=p.reM.includes(t);ticks.push(seg(a,[a[0]+(m?13:8),a[1]-(m?14:7)]));});
  lines(ticks,'#444',1.2,4);
  series.push({...base,type:'scatter',animation:false,silent:true,clip:false,z:6,symbolSize:0,data:p.labels,encode:{x:0,y:1},
    label:{show:true,position:'inside',color:'#111',fontFamily:'Liberation Sans',fontSize:33,formatter:d=>d.data[2]}});
});
const serif={fontFamily:'Liberation Serif',fontSize:84,color:'#000'};
const rich={r:serif,i:{...serif,fontStyle:'italic'},e:{...serif,padding:[0,20,0,20]},m:{...serif,padding:[0,12,0,12]},b:{...serif,padding:[0,6,0,6]}};
const axis=(inv)=>grids.map((_,i)=>({type:'value',gridIndex:i,min:0,max:1568,show:false,inverse:inv}));
const chart=echarts.init(document.getElementById('c'),null,{renderer:'canvas'});
chart.setOption({backgroundColor:'#fff',animation:false,
  title:captions.map(c=>({text:c.t,left:c.left,top:c.top,textStyle:{rich,fontFamily:'Liberation Serif',fontSize:84,fontWeight:'normal'}})),
  grid:grids,xAxis:axis(false),yAxis:axis(true),
  visualMap:{show:false,type:'continuous',seriesIndex:mainIdx,dimension:2,min:0,max:41.4,inRange:{color:['#ff0000','#ffff00','#00ff00','#00ffff','#0000ff','#ff00ff','#ff0000']}},
  series});
</script></body></html>
